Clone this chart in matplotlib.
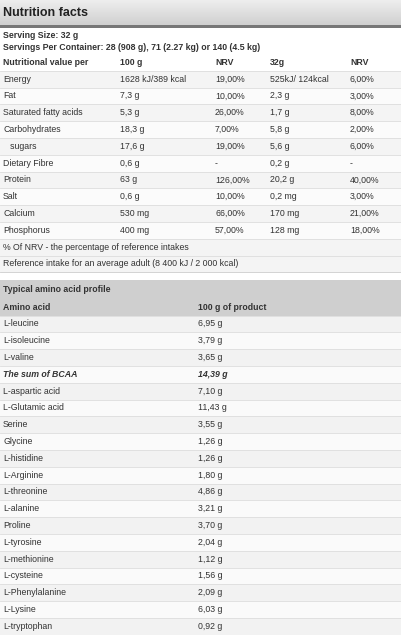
import matplotlib
matplotlib.use("Agg")
import matplotlib.pyplot as plt
from matplotlib.patches import Rectangle

plt.rcParams['font.family'] = ['Liberation Sans', 'DejaVu Sans']

title = "Nutrition facts"
serving = ["Serving Size: 32 g", "Servings Per Container: 28 (908 g), 71 (2.27 kg) or 140 (4.5 kg)"]
header = ["Nutritional value per", "100 g", "NRV", "32g", "NRV"]
nutrients = ["Energy", "Fat", "Saturated fatty acids", "Carbohydrates", "   sugars", "Dietary Fibre",
             "Protein", "Salt", "Calcium", "Phosphorus"]
per100 = ["1628 kJ/389 kcal", "7,3 g", "5,3 g", "18,3 g", "17,6 g", "0,6 g", "63 g", "0,6 g", "530 mg", "400 mg"]
nrv100 = ["19,00%", "10,00%", "26,00%", "7,00%", "19,00%", "-", "126,00%", "10,00%", "66,00%", "57,00%"]
per32 = ["525kJ/ 124kcal", "2,3 g", "1,7 g", "5,8 g", "5,6 g", "0,2 g", "20,2 g", "0,2 mg", "170 mg", "128 mg"]
nrv32 = ["6,00%", "3,00%", "8,00%", "2,00%", "6,00%", "-", "40,00%", "3,00%", "21,00%", "18,00%"]
notes = ["% Of NRV - the percentage of reference intakes",
         "Reference intake for an average adult (8 400 kJ / 2 000 kcal)"]
amino_title = "Typical amino acid profile"
amino_header = ["Amino acid", "100 g of product"]
amino = ["L-leucine", "L-isoleucine", "L-valine", "The sum of BCAA", "L-aspartic acid", "L-Glutamic acid",
         "Serine", "Glycine", "L-histidine", "L-Arginine", "L-threonine", "L-alanine", "Proline",
         "L-tyrosine", "L-methionine", "L-cysteine", "L-Phenylalanine", "L-Lysine", "L-tryptophan"]
amino_vals = ["6,95 g", "3,79 g", "3,65 g", "14,39 g", "7,10 g", "11,43 g", "3,55 g", "1,26 g", "1,26 g",
              "1,80 g", "4,86 g", "3,21 g", "3,70 g", "2,04 g", "1,12 g", "1,56 g", "2,09 g", "6,03 g", "0,92 g"]

W, H = 401, 638
fig = plt.figure(figsize=(W/100, H/100), dpi=100)
ax = fig.add_axes([0, 0, 1, 1])
ax.set_xlim(0, W); ax.set_ylim(H, 0); ax.axis('off')

fs = 6.3
tc = '#333333'
for i in range(25):
    g = 0.93 - 0.12 * i / 25
    ax.add_patch(Rectangle((0, i), W, 1, color=(g, g, g), lw=0))
ax.add_patch(Rectangle((0, 25), W, 3, color='#777777', lw=0))
ax.text(3, 13, title, fontsize=9, fontweight='bold', color='#222222', va='center')
ax.text(3, 36, serving[0], fontsize=fs, fontweight='bold', color=tc, va='center')
ax.text(3, 47, serving[1], fontsize=fs, fontweight='bold', color=tc, va='center')

cols = [3, 120, 215, 270, 350]
row_h = 16.8
y0 = 54
for x, t in zip(cols, header):
    ax.text(x, y0 + row_h/2, t, fontsize=fs, fontweight='bold', color=tc, va='center')
for i in range(len(nutrients)):
    y = y0 + (i + 1) * row_h
    ax.add_patch(Rectangle((0, y), W, row_h, color='#f4f4f4' if i % 2 == 0 else '#fbfbfb', lw=0))
    ax.plot([0, W], [y, y], color='#dddddd', lw=0.6)
    for x, t in zip(cols, [nutrients[i], per100[i], nrv100[i], per32[i], nrv32[i]]):
        ax.text(x, y + row_h/2, t, fontsize=fs, color=tc, va='center')
for j, t in enumerate(notes):
    y = y0 + (len(nutrients) + 1 + j) * row_h
    ax.add_patch(Rectangle((0, y), W, row_h, color='#f4f4f4', lw=0))
    ax.plot([0, W], [y, y], color='#dddddd', lw=0.6)
    ax.text(3, y + row_h/2, t, fontsize=fs, color=tc, va='center')
yend = y0 + (len(nutrients) + 3) * row_h
ax.plot([0, W], [yend, yend], color='#cccccc', lw=0.6)

ya = 280
ax.add_patch(Rectangle((0, ya), W, 2 * row_h + 2, color='#cfcfcf', lw=0))
ax.text(3, ya + 10, amino_title, fontsize=fs, fontweight='bold', color=tc, va='center')
ax.text(3, ya + 27, amino_header[0], fontsize=fs, fontweight='bold', color=tc, va='center')
ax.text(198, ya + 27, amino_header[1], fontsize=fs, fontweight='bold', color=tc, va='center')
yb = ya + 2 * row_h + 2
for i, (n, v) in enumerate(zip(amino, amino_vals)):
    y = yb + i * row_h
    ax.add_patch(Rectangle((0, y), W, row_h, color='#f2f2f2' if i % 2 == 0 else '#fafafa', lw=0))
    ax.plot([0, W], [y, y], color='#dddddd', lw=0.6)
    kw = dict(fontweight='bold', style='italic') if n == "The sum of BCAA" else {}
    ax.text(3, y + row_h/2, n, fontsize=fs, color=tc, va='center', **kw)
    ax.text(198, y + row_h/2, v, fontsize=fs, color=tc, va='center', **kw)

fig.savefig("out.png", dpi=100)
